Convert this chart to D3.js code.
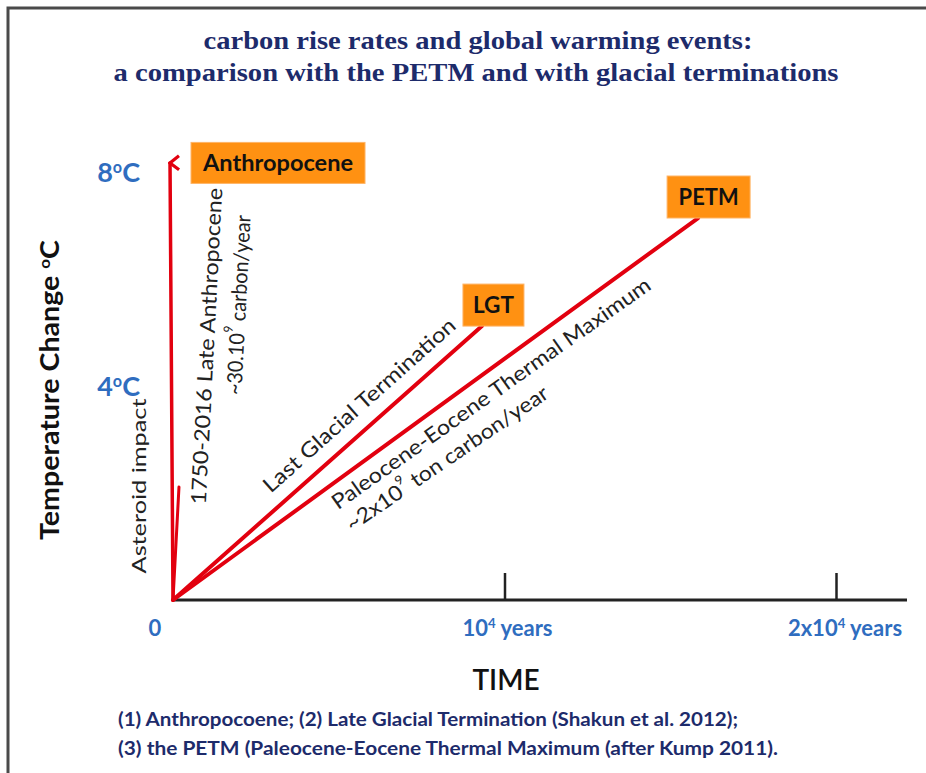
<!DOCTYPE html>
<html><head><meta charset="utf-8">
<script src="https://cdn.jsdelivr.net/npm/d3@7"></script>
<style>body{margin:0;background:#fff;} svg{display:block;}</style>
</head><body>
<script>
// ---- data ----
const events      = ["Anthropocene", "Asteroid impact", "LGT", "PETM"];
const eventYears  = [-90, 180, 9320, 15840];
const eventTemps  = [8.17, 2.11, 5.12, 7.14];
const boxLabels   = ["Anthropocene", "", "LGT", "PETM"];
const xTickValues = [0, 10000, 20000];
const xTickLabels = ["0", "10^4 years", "2x10^4 years"];
const yTickValues = [4, 8];
const yTickLabels = ["4^oC", "8^oC"];
const titleLines  = ["carbon rise rates and global warming events:",
                     "a comparison with the PETM and with glacial terminations"];
const footLines   = ["(1) Anthropocoene; (2) Late Glacial Termination (Shakun et al. 2012);",
                     "(3) the PETM (Paleocene-Eocene Thermal Maximum (after Kump 2011)."];

const W = 926, H = 773;
const svg = d3.select("body").append("svg").attr("width", W).attr("height", H);

const x = d3.scaleLinear().domain([0, 20000]).range([173, 836]);
const y = d3.scaleLinear().domain([0, 8]).range([600, 172]);

const RED = "#e2000f", BLUE = "#2f6dbf", NAVY = "#1d2b6b", ORANGE = "#ff9112";

// helper: text with ^x superscripts
function richText(sel, str) {
  const parts = str.split(/(\^.)/);
  parts.forEach(p => {
    if (!p) return;
    if (p[0] === "^") {
      sel.append("tspan").attr("font-size", "0.6em").attr("baseline-shift", "super").text(p[1]);
    } else sel.append("tspan").text(p);
  });
  return sel;
}

// frame
svg.append("path").attr("d", `M8,${H} L8,8 L${W},8`).attr("fill", "none")
  .attr("stroke", "#4a4a4a").attr("stroke-width", 3);

// title
svg.selectAll("text.title").data(titleLines).join("text").attr("class", "title")
  .attr("x", (d, i) => i ? 476 : 478).attr("y", (d, i) => 49 + i * 32)
  .attr("text-anchor", "middle").attr("font-family", "Liberation Serif")
  .attr("font-weight", "bold").attr("font-size", 25).attr("fill", NAVY)
  .attr("textLength", (d, i) => i ? 725 : 549).attr("lengthAdjust", "spacingAndGlyphs")
  .text(d => d);

// x axis
const xAxis = d3.axisBottom(x).tickValues(xTickValues.filter(v => v > 0))
  .tickSizeInner(-27).tickSizeOuter(0).tickFormat("");
const gx = svg.append("g").attr("transform", `translate(0,${y(0)})`).call(xAxis);
gx.select(".domain").attr("stroke", "#222").attr("stroke-width", 3)
  .attr("d", `M${x(0)},0H907`);
gx.selectAll(".tick line").attr("stroke", "#222").attr("stroke-width", 2.5);

xTickValues.forEach((v, i) => {
  const t = svg.append("text")
    .attr("x", v === 0 ? x(v) - 18 : x(v) + (i === 1 ? 3 : 9)).attr("y", 636)
    .attr("text-anchor", "middle").attr("font-family", "Lato").attr("font-weight", "bold")
    .attr("font-size", 22).attr("fill", BLUE);
  richText(t, xTickLabels[i]);
});

// y labels
yTickValues.forEach((v, i) => {
  const t = svg.append("text").attr("x", 140).attr("y", y(v) + 10)
    .attr("text-anchor", "end").attr("font-family", "Lato").attr("font-weight", "bold")
    .attr("font-size", 27).attr("fill", BLUE);
  richText(t, yTickLabels[i]);
});

// axis titles
svg.append("text").attr("transform", "translate(59,390) rotate(-90)")
  .attr("text-anchor", "middle").attr("font-family", "Lato").attr("font-weight", "bold")
  .attr("font-size", 26).attr("fill", "#111").attr("textLength", 300)
  .attr("lengthAdjust", "spacingAndGlyphs").call(s => richText(s, "Temperature Change ^oC"));
svg.append("text").attr("x", 506).attr("y", 690).attr("text-anchor", "middle")
  .attr("font-family", "Lato").attr("font-size", 28).attr("fill", "#111")
  .attr("font-weight", 600).text("TIME");

// lines
svg.append("defs").append("marker").attr("id", "arr").attr("viewBox", "-9 -2 18 14")
  .attr("refX", 0).attr("refY", 0).attr("markerWidth", 18).attr("markerHeight", 14)
  .attr("markerUnits", "userSpaceOnUse").attr("orient", "auto-start-reverse")
  .append("path").attr("d", "M-7,9 L0,0 L7,9").attr("fill", "none")
  .attr("stroke", RED).attr("stroke-width", 3.2);

const line = d3.line().x(d => x(d[0])).y(d => y(d[1]));
const widths = [3.5, 3, 4, 4];
events.forEach((e, i) => {
  const p = svg.append("path").attr("d", line([[0, 0], [eventYears[i], eventTemps[i]]]))
    .attr("fill", "none").attr("stroke", RED).attr("stroke-width", widths[i])
    .attr("stroke-linecap", "round");
  if (i === 0) p.attr("marker-end", "url(#arr)");
});

// label boxes
const boxSize = { "Anthropocene": [174, 41, 108, 0, 150], "LGT": [61, 42, 11.5, -21, 41], "PETM": [83, 42, 10.5, -21, 60] };
events.forEach((e, i) => {
  const lab = boxLabels[i];
  if (!lab) return;
  const [bw, bh, dx, dy, tl] = boxSize[lab];
  const cx = x(eventYears[i]) + dx, cy = y(eventTemps[i]) + dy;
  svg.append("rect").attr("x", cx - bw / 2).attr("y", cy - bh / 2).attr("width", bw).attr("height", bh)
    .attr("fill", ORANGE).attr("stroke", "#ffb466").attr("stroke-width", 1);
  svg.append("text").attr("x", cx).attr("y", cy + 8).attr("text-anchor", "middle")
    .attr("font-family", "Lato").attr("font-weight", "bold").attr("font-size", 23)
    .attr("fill", "#111").attr("textLength", tl).attr("lengthAdjust", "spacingAndGlyphs").text(lab);
});

// annotations
function rotText(cx, cy, ang, str, len, size) {
  const t = svg.append("text").attr("transform", `translate(${cx},${cy}) rotate(${ang})`)
    .attr("text-anchor", "middle").attr("dominant-baseline", "central")
    .attr("font-family", "Lato").attr("font-size", size).attr("fill", "#222")
    .attr("textLength", len).attr("lengthAdjust", "spacingAndGlyphs");
  richText(t, str);
}
rotText(138, 486, -90, "Asteroid impact", 175, 20);
rotText(205, 346, -87, "1750-2016 Late Anthropocene", 317, 21);
rotText(237, 305, -87, "~30.10^9 carbon/year", 180, 21);
rotText(358, 404, -41.7, "Last Glacial Termination", 250, 21);
rotText(490, 392, -35.2, "Paleocene-Eocene Thermal Maximum", 385, 21);
rotText(446, 457, -34.3, "~2x10^9 ton carbon/year", 240, 21);

// footnotes
svg.selectAll("text.foot").data(footLines).join("text").attr("class", "foot")
  .attr("x", 118).attr("y", (d, i) => 726 + i * 29)
  .attr("font-family", "Lato").attr("font-weight", "bold").attr("font-size", 18)
  .attr("fill", NAVY).attr("textLength", (d, i) => i ? 660 : 620)
  .attr("lengthAdjust", "spacingAndGlyphs").text(d => d);
</script>
</body></html>
